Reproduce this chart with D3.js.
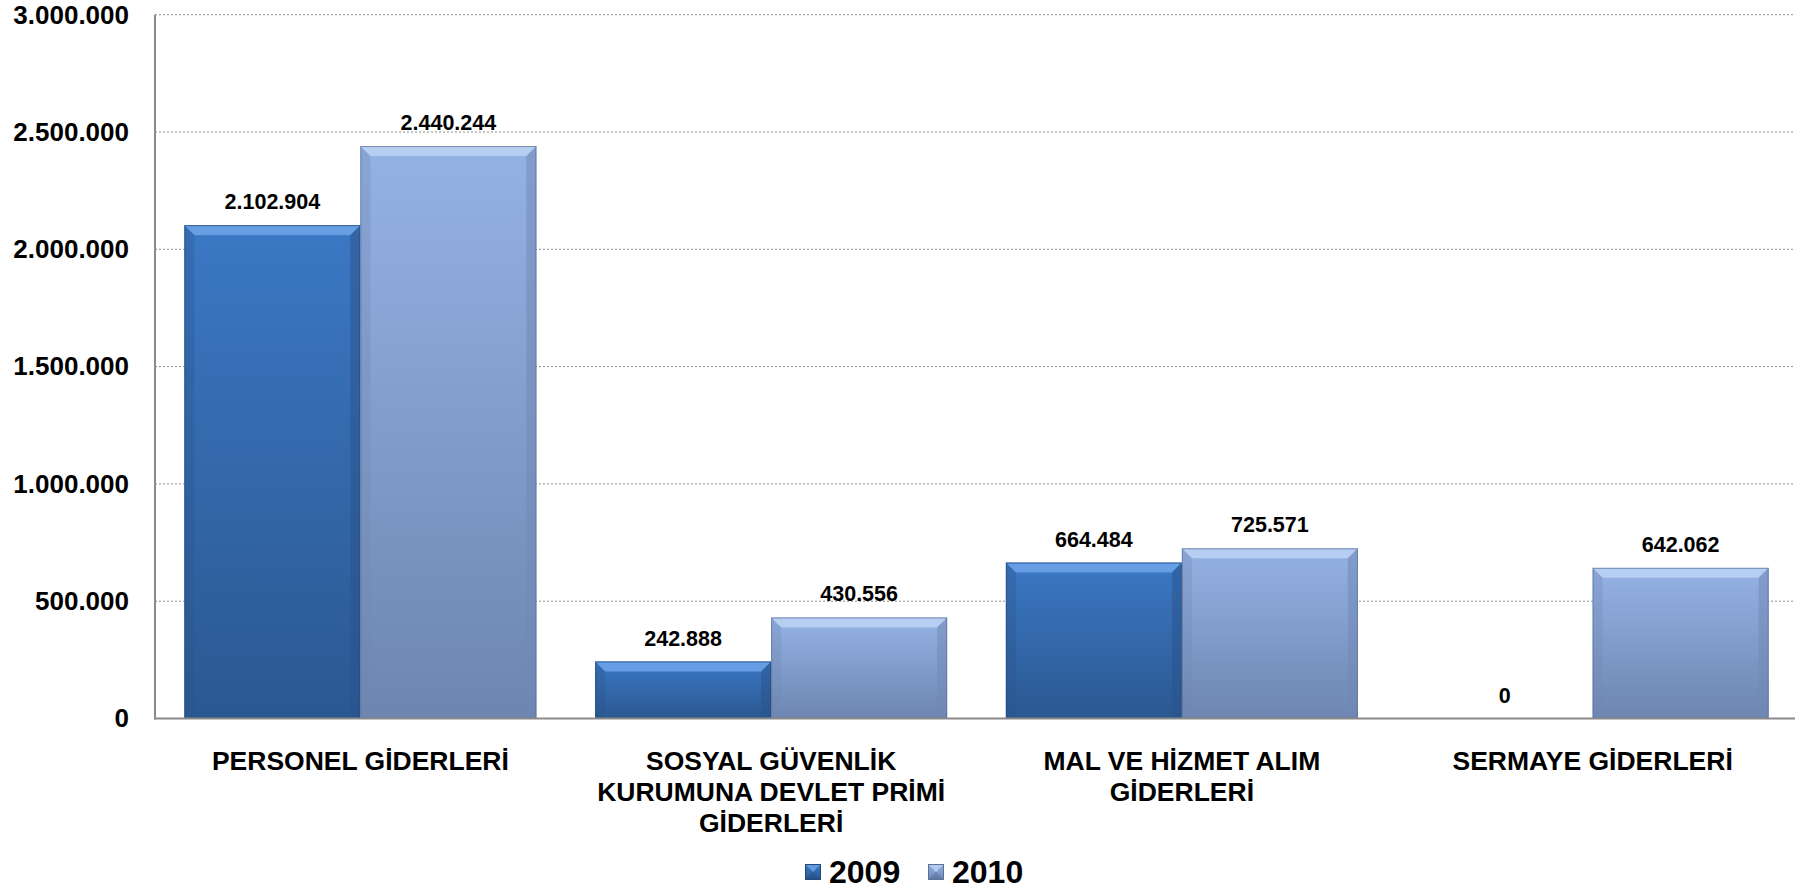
<!DOCTYPE html>
<html><head><meta charset="utf-8">
<script src="https://cdn.jsdelivr.net/npm/d3@7"></script>
<style>
html,body{margin:0;padding:0;background:#fff;}
svg{display:block;font-family:"Liberation Sans",Arial,sans-serif;}
</style></head>
<body><svg id="c" width="1795" height="889"></svg>
<script>
const categories = [
  ["PERSONEL GİDERLERİ"],
  ["SOSYAL GÜVENLİK", "KURUMUNA DEVLET PRİMİ", "GİDERLERİ"],
  ["MAL VE HİZMET ALIM", "GİDERLERİ"],
  ["SERMAYE GİDERLERİ"]
];
const seriesNames = ["2009", "2010"];
const values2009 = [2102904, 242888, 664484, 0];
const values2010 = [2440244, 430556, 725571, 642062];
const yTicks = [0, 500000, 1000000, 1500000, 2000000, 2500000, 3000000];

(function () {
const fmt = v => d3.format(",")(v).replace(/,/g, ".");

const svg = d3.select("#c");
const pLeft = 155, pRight = 1798, pTop = 14.7, pBottom = 718.5;

const y = d3.scaleLinear().domain([0, 3000000]).range([pBottom, pTop]);
const x0 = d3.scaleBand().domain(d3.range(categories.length)).range([pLeft, pRight]).paddingInner(0.143).paddingOuter(0.0715);
const x1 = d3.scaleBand().domain(seriesNames).range([0, x0.bandwidth()]).padding(0);

const defs = svg.append("defs");
const pal = {
  "2009": {top: "#3b78c4", bot: "#2b5891", hi: "#6ea4ea", side: "#2a5289", edge: "#244a7c"},
  "2010": {top: "#94b2e4", bot: "#6d86b1", hi: "#bcd3f3", side: "#7088b4", edge: "#5c7298"}
};
seriesNames.forEach(s => {
  const g = defs.append("linearGradient").attr("id", "g" + s).attr("x1", 0).attr("y1", 0).attr("x2", 0).attr("y2", 1);
  g.append("stop").attr("offset", 0).attr("stop-color", pal[s].top);
  g.append("stop").attr("offset", 1).attr("stop-color", pal[s].bot);
});

// gridlines
svg.append("g").selectAll("line").data(yTicks.filter(t => t > 0)).join("line")
  .attr("x1", pLeft).attr("x2", 1795).attr("y1", d => y(d)).attr("y2", d => y(d))
  .attr("stroke", "#8c8c8c").attr("stroke-width", 1).attr("stroke-dasharray", "2,2");

// y axis
const yAxis = d3.axisLeft(y).tickValues(yTicks).tickFormat(fmt).tickSize(0).tickPadding(26);
const ya = svg.append("g").attr("transform", `translate(${pLeft},0)`).call(yAxis);
ya.select(".domain").remove();
ya.selectAll("text").attr("font-size", 26).attr("font-weight", "bold").attr("fill", "#000")
  .attr("font-family", "Liberation Sans, Arial, sans-serif");

// bars
const data = [];
categories.forEach((c, i) => {
  data.push({i, s: "2009", v: values2009[i]});
  data.push({i, s: "2010", v: values2010[i]});
});
const bars = svg.append("g");
data.forEach(d => {
  const bx = x0(d.i) + x1(d.s), bw = x1.bandwidth();
  const by = y(d.v), bh = y(0) - y(d.v);
  if (bh <= 0) return;
  const g = bars.append("g");
  g.append("rect").attr("x", bx).attr("y", by).attr("width", bw).attr("height", bh)
    .attr("fill", `url(#g${d.s})`);
  const b = Math.min(10, bh / 2);
  g.append("path").attr("d", `M${bx},${by}L${bx + bw},${by}L${bx + bw - b},${by + b}L${bx + b},${by + b}Z`)
    .attr("fill", pal[d.s].hi).attr("opacity", 0.85);
  g.append("path").attr("d", `M${bx},${by}L${bx + b},${by + b}L${bx + b},${by + bh}L${bx},${by + bh}Z`)
    .attr("fill", pal[d.s].side).attr("opacity", 0.3);
  g.append("path").attr("d", `M${bx + bw},${by}L${bx + bw - b},${by + b}L${bx + bw - b},${by + bh}L${bx + bw},${by + bh}Z`)
    .attr("fill", pal[d.s].side).attr("opacity", 0.5);
  g.append("rect").attr("x", bx + 0.5).attr("y", by + 0.5).attr("width", bw - 1).attr("height", bh - 1)
    .attr("fill", "none").attr("stroke", pal[d.s].edge).attr("stroke-width", 1).attr("opacity", 0.7);
});

// value labels
svg.append("g").selectAll("text").data(data).join("text")
  .attr("x", d => x0(d.i) + x1(d.s) + x1.bandwidth() / 2)
  .attr("y", d => y(d.v) - 16)
  .attr("text-anchor", "middle").attr("font-size", 21.5).attr("font-weight", "bold").attr("fill", "#000")
  .text(d => fmt(d.v));

// axis lines
svg.append("line").attr("x1", pLeft).attr("x2", pLeft).attr("y1", pTop).attr("y2", pBottom + 1)
  .attr("stroke", "#8a8a8a").attr("stroke-width", 2);
svg.append("line").attr("x1", pLeft - 1).attr("x2", 1795).attr("y1", pBottom).attr("y2", pBottom)
  .attr("stroke", "#8a8a8a").attr("stroke-width", 2);

// category labels
const cl = svg.append("g");
categories.forEach((lines, i) => {
  const t = cl.append("text").attr("text-anchor", "middle").attr("font-size", 26.5).attr("font-weight", "bold").attr("fill", "#000");
  lines.forEach((ln, k) => {
    t.append("tspan").attr("x", x0(i) + x0.bandwidth() / 2).attr("y", 770 + k * 31).text(ln);
  });
});

// legend
const lg = svg.append("g");
const legendX = [805, 928];
seriesNames.forEach((s, k) => {
  const lx = legendX[k], ly = 864, sz = 16;
  const gg = lg.append("g");
  gg.append("rect").attr("x", lx).attr("y", ly).attr("width", sz).attr("height", sz).attr("fill", `url(#g${s})`);
  gg.append("path").attr("d", `M${lx},${ly}L${lx + sz},${ly}L${lx + sz / 2},${ly + sz / 2}Z`).attr("fill", pal[s].hi).attr("opacity", 0.8);
  gg.append("path").attr("d", `M${lx},${ly + sz}L${lx + sz},${ly + sz}L${lx + sz / 2},${ly + sz / 2}Z`).attr("fill", pal[s].edge).attr("opacity", 0.5);
  gg.append("rect").attr("x", lx + 0.5).attr("y", ly + 0.5).attr("width", sz - 1).attr("height", sz - 1).attr("fill", "none").attr("stroke", pal[s].edge);
  lg.append("text").attr("x", lx + 24).attr("y", 883).attr("font-size", 32).attr("font-weight", "bold").attr("fill", "#000").text(s);
});
})();
</script></body></html>
